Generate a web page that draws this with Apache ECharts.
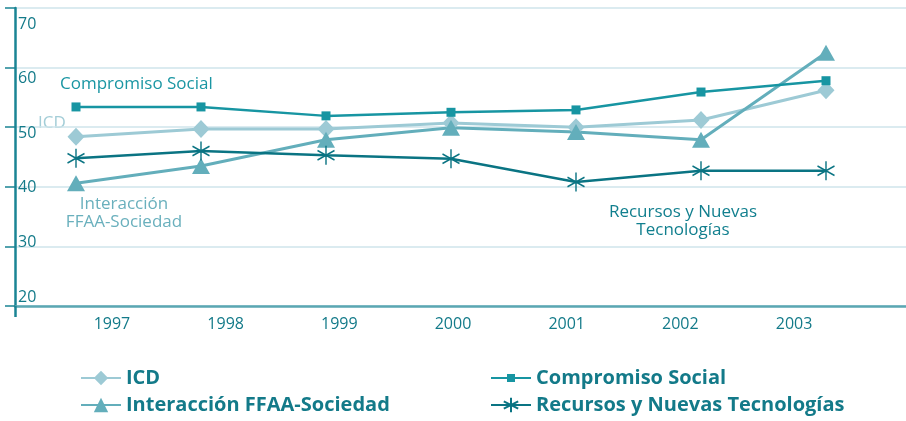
<!DOCTYPE html>
<html>
<head>
<meta charset="utf-8">
<script src="https://cdn.jsdelivr.net/npm/echarts@6/dist/echarts.min.js"></script>
<style>
	html, body { margin: 0; padding: 0; background: #fff; }
	#chart { width: 906px; height: 421px; }
</style>
</head>
<body>
<div id="chart"></div>
<script>
	// valores
	var years = [1997, 1998, 1999, 2000, 2001, 2002, 2003]
	var yTicks = [20, 30, 40, 50, 60, 70]
	var icd = [48.4, 49.7, 49.7, 50.7, 50.0, 51.2, 56.2]
	var compromiso = [53.4, 53.4, 51.9, 52.5, 52.9, 55.9, 57.8]
	var interaccion = [40.6, 43.5, 47.9, 49.9, 49.2, 47.9, 62.5]
	var recursos = [44.8, 46.0, 45.3, 44.7, 40.8, 42.7, 42.7]

	var font = '"Open Sans", "Noto Sans", sans-serif'
	var textColor = '#137a89'
	var asterisk = 'path://M0,-10L0,10M-8.66,-5L8.66,5M-8.66,5L8.66,-5'

	function pairs(values) {
		var out = []
		for (let i = 0; i < years.length; i++) {
			out.push([years[i], values[i]])
		}
		return out
	}

	// una leyenda por entrada, para poder armar la grilla 2x2
	function legendItem(name, left, centerY, h) {
		return {
			data: [name],
			left: left,
			top: centerY - 14,
			itemWidth: 40,
			itemHeight: h,
			padding: [2, 5, 2, 5],
			textStyle: { color: textColor, fontSize: 20, fontWeight: 'bold', fontFamily: font, height: 24, lineHeight: 24 }
		}
	}

	var chart = echarts.init(document.getElementById('chart'))
	var xMin = 1996.512
	var option = {
		animation: false,
		textStyle: { fontFamily: font },
		grid: { left: 15, right: 0, top: 8, bottom: 115 },
		xAxis: [{
			type: 'value',
			min: xMin,
			max: 2003.64,
			splitLine: { show: false },
			axisLine: { lineStyle: { color: '#5ba7b2', width: 2.5 } },
			axisTick: { show: true, customValues: [xMin], length: 11, lineStyle: { color: '#1a8494', width: 2.5 } },
			axisLabel: { show: false }
		}, {
			type: 'value',
			min: 1996.147,
			max: 2003.985,
			position: 'bottom',
			splitLine: { show: false },
			axisLine: { show: false },
			axisTick: { show: false },
			axisLabel: {
				customValues: years,
				margin: 10,
				color: textColor,
				fontSize: 16,
				fontFamily: font,
				formatter: function (v) { return String(Math.round(v)) }
			}
		}],
		yAxis: [{
			type: 'value',
			min: 20,
			max: 70,
			interval: 10,
			axisLine: { show: true, lineStyle: { color: '#1a8494', width: 2.5 } },
			axisTick: { show: true, length: 10, lineStyle: { color: '#1a8494', width: 1.5 } },
			axisLabel: { show: false },
			splitLine: { lineStyle: { color: '#cfe4eb', width: 1.5 } }
		}, {
			type: 'value',
			position: 'left',
			min: 18.35,
			max: 72.93,
			axisLine: { show: false },
			axisTick: { show: false },
			splitLine: { show: false },
			axisLabel: {
				inside: true,
				customValues: yTicks,
				margin: 3,
				color: textColor,
				fontSize: 16,
				fontFamily: font
			}
		}],
		legend: [
			legendItem('ICD', 75, 378, 18),
			legendItem('Interacción FFAA-Sociedad', 75, 405, 18),
			legendItem('Compromiso Social', 485, 378, 10),
			legendItem('Recursos y Nuevas Tecnologías', 485, 405, 18)
		],
		graphic: [
			{ type: 'text', x: 60, y: 84, style: { text: 'Compromiso Social', fill: '#1a96a3', font: '17px ' + font, verticalAlign: 'middle' } },
			{ type: 'text', x: 38, y: 123, style: { text: 'ICD', fill: '#a3cdd7', font: '17px ' + font, verticalAlign: 'middle' } },
			{ type: 'text', x: 124, y: 213, style: { text: 'Interacción\nFFAA-Sociedad', fill: '#6ab0bd', font: '17px ' + font, align: 'center', verticalAlign: 'middle', lineHeight: 18 } },
			{ type: 'text', x: 683, y: 221, style: { text: 'Recursos y Nuevas\nTecnologías', fill: '#117f8e', font: '17px ' + font, align: 'center', verticalAlign: 'middle', lineHeight: 18 } }
		],
		series: [
			{
				name: 'ICD',
				type: 'line',
				data: pairs(icd),
				symbol: 'diamond',
				symbolSize: [17, 18],
				lineStyle: { color: '#9dcad5', width: 3 },
				itemStyle: { color: '#9dcad5' }
			},
			{
				name: 'Interacción FFAA-Sociedad',
				type: 'line',
				data: pairs(interaccion),
				symbol: 'triangle',
				symbolSize: [18, 16],
				lineStyle: { color: '#63aebb', width: 3 },
				itemStyle: { color: '#63aebb' }
			},
			{
				name: 'Compromiso Social',
				type: 'line',
				data: pairs(compromiso),
				symbol: 'rect',
				symbolSize: 9,
				lineStyle: { color: '#1795a2', width: 2.5 },
				itemStyle: { color: '#1795a2' }
			},
			{
				name: 'Recursos y Nuevas Tecnologías',
				type: 'line',
				data: pairs(recursos),
				symbol: asterisk,
				symbolSize: [17, 19],
				lineStyle: { color: '#0a7483', width: 2.5 },
				itemStyle: { color: 'rgba(0,0,0,0)', borderColor: '#0a7483', borderWidth: 1.5 }
			}
		]
	}
	chart.setOption(option)
</script>
</body>
</html>
